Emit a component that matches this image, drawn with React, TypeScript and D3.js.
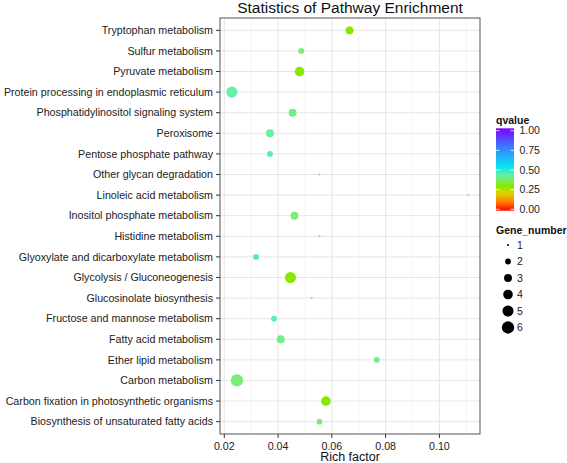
import React from "react";
import * as d3 from "d3";

const pathways = [
  "Tryptophan metabolism",
  "Sulfur metabolism",
  "Pyruvate metabolism",
  "Protein processing in endoplasmic reticulum",
  "Phosphatidylinositol signaling system",
  "Peroxisome",
  "Pentose phosphate pathway",
  "Other glycan degradation",
  "Linoleic acid metabolism",
  "Inositol phosphate metabolism",
  "Histidine metabolism",
  "Glyoxylate and dicarboxylate metabolism",
  "Glycolysis / Gluconeogenesis",
  "Glucosinolate biosynthesis",
  "Fructose and mannose metabolism",
  "Fatty acid metabolism",
  "Ether lipid metabolism",
  "Carbon metabolism",
  "Carbon fixation in photosynthetic organisms",
  "Biosynthesis of unsaturated fatty acids",
];
const richFactor = [
  0.0666, 0.0486, 0.048, 0.0228, 0.0454, 0.037, 0.037, 0.0554, 0.1107, 0.0461,
  0.0554, 0.0318, 0.0446, 0.0525, 0.0385, 0.041, 0.0767, 0.0247, 0.0578, 0.0554,
];
const geneNumber = [3, 2, 4, 5, 3, 3, 2, 1, 1, 3, 1, 2, 5, 1, 2, 3, 2, 6, 4, 2];
const qvalue = [
  0.3, 0.38, 0.3, 0.44, 0.4, 0.43, 0.45, 0.4, 0.42, 0.38,
  0.46, 0.46, 0.3, 0.45, 0.45, 0.4, 0.4, 0.38, 0.3, 0.4,
];
const xTicks = [0.02, 0.04, 0.06, 0.08, 0.1];
const xMinorTicks = [0.03, 0.05, 0.07, 0.09, 0.11];
const qTicks = [0, 0.25, 0.5, 0.75, 1];
const sizeBreaks = [1, 2, 3, 4, 5, 6];
const colorStops = [0, 0.1, 0.22, 0.3, 0.38, 0.44, 0.52, 0.75, 1];
const colorValues = [
  "#FF0000", "#FF7700", "#DDDD00", "#88E800", "#77EE77", "#66EEAA", "#00EEEE", "#3388FF", "#8000FF",
];

const W = 567;
const H = 463;
const panel = { left: 220, right: 480, top: 18, bottom: 434 };
const font = "'Liberation Sans', Arial, Helvetica, sans-serif";

export default function App() {
  const xmin = d3.min(richFactor)!;
  const xmax = d3.max(richFactor)!;
  const pad = (xmax - xmin) * 0.05;
  const x = d3.scaleLinear().domain([xmin - pad, xmax + pad]).range([panel.left, panel.right]);
  const y = d3.scalePoint<string>().domain(pathways).range([panel.top, panel.bottom]).padding(0.6);
  const color = d3.scaleLinear<string>().domain(colorStops).range(colorValues).interpolate(d3.interpolateRgb);
  const sizeMm = d3.scaleLinear().domain([1, 6]).range([1, 36]);
  const diam = (n: number) => Math.sqrt(sizeMm(n)) * 2.05;

  const cbTop = 130.7;
  const cbBottom = 209.3;
  const cb = d3.scaleLinear().domain([0, 1]).range([cbBottom, cbTop]);
  const gradStops = d3.range(0, 1.0001, 0.05);

  return (
    <svg width={W} height={H} style={{ position: "absolute", left: 0, top: 0, background: "#fff" }}>
      <defs>
        <linearGradient id="qgrad" x1="0" y1="1" x2="0" y2="0">
          {gradStops.map((t) => (
            <stop key={t} offset={t} stopColor={color(t)} />
          ))}
        </linearGradient>
      </defs>
      <rect x={0} y={0} width={W} height={H} fill="#fff" />
      {/* title */}
      <text x={(panel.left + panel.right) / 2} y={12.8} textAnchor="middle" fontFamily={font} fontSize={15.5} fill="#111">
        Statistics of Pathway Enrichment
      </text>
      {/* grid */}
      {xMinorTicks.map((t) => (
        <line key={"m" + t} x1={x(t)} x2={x(t)} y1={panel.top} y2={panel.bottom} stroke="#f2f2f2" strokeWidth={0.8} />
      ))}
      {xTicks.map((t) => (
        <line key={"g" + t} x1={x(t)} x2={x(t)} y1={panel.top} y2={panel.bottom} stroke="#e6e6e6" strokeWidth={1} />
      ))}
      {pathways.map((p) => (
        <line key={"h" + p} x1={panel.left} x2={panel.right} y1={y(p)} y2={y(p)} stroke="#e6e6e6" strokeWidth={1} />
      ))}
      {/* points */}
      {pathways.map((p, i) => (
        <circle key={"c" + p} cx={x(richFactor[i])} cy={y(p)} r={diam(geneNumber[i]) / 2} fill={color(qvalue[i])} />
      ))}
      {/* panel border */}
      <rect x={panel.left} y={panel.top} width={panel.right - panel.left} height={panel.bottom - panel.top} fill="none" stroke="#555" strokeWidth={1} />
      {/* y axis */}
      {pathways.map((p) => (
        <g key={"y" + p}>
          <line x1={panel.left - 4} x2={panel.left} y1={y(p)} y2={y(p)} stroke="#333" strokeWidth={1} />
          <text x={panel.left - 7} y={y(p)} dy="0.35em" textAnchor="end" fontFamily={font} fontSize={10.7} fill="#222">
            {p}
          </text>
        </g>
      ))}
      {/* x axis */}
      {xTicks.map((t) => (
        <g key={"x" + t}>
          <line x1={x(t)} x2={x(t)} y1={panel.bottom} y2={panel.bottom + 4} stroke="#333" strokeWidth={1} />
          <text x={x(t)} y={449.5} textAnchor="middle" fontFamily={font} fontSize={10.7} fill="#222">
            {d3.format(".2f")(t)}
          </text>
        </g>
      ))}
      <text x={(panel.left + panel.right) / 2} y={461} textAnchor="middle" fontFamily={font} fontSize={12.5} fill="#111">
        Rich factor
      </text>
      {/* qvalue legend */}
      <text x={496} y={124} fontFamily={font} fontSize={10.5} fontWeight="bold" fill="#111">
        qvalue
      </text>
      <rect x={496} y={128.3} width={18} height={82.4} fill="url(#qgrad)" />
      {qTicks.map((t) => (
        <g key={"q" + t}>
          <line x1={496} x2={499.5} y1={cb(t)} y2={cb(t)} stroke="#fff" strokeWidth={0.8} />
          <line x1={510.5} x2={514} y1={cb(t)} y2={cb(t)} stroke="#fff" strokeWidth={0.8} />
          <text x={519.5} y={cb(t)} dy="0.35em" fontFamily={font} fontSize={10.5} fill="#222">
            {d3.format(".2f")(t)}
          </text>
        </g>
      ))}
      {/* size legend */}
      <text x={496} y={233.5} fontFamily={font} fontSize={10.5} fontWeight="bold" fill="#111">
        Gene_number
      </text>
      {sizeBreaks.map((n, i) => {
        const cy = 245 + i * 16.5;
        return (
          <g key={"s" + n}>
            <circle cx={508} cy={cy} r={diam(n) / 2} fill="#000" />
            <text x={517} y={cy} dy="0.35em" fontFamily={font} fontSize={10.5} fill="#222">
              {n}
            </text>
          </g>
        );
      })}
    </svg>
  );
}
